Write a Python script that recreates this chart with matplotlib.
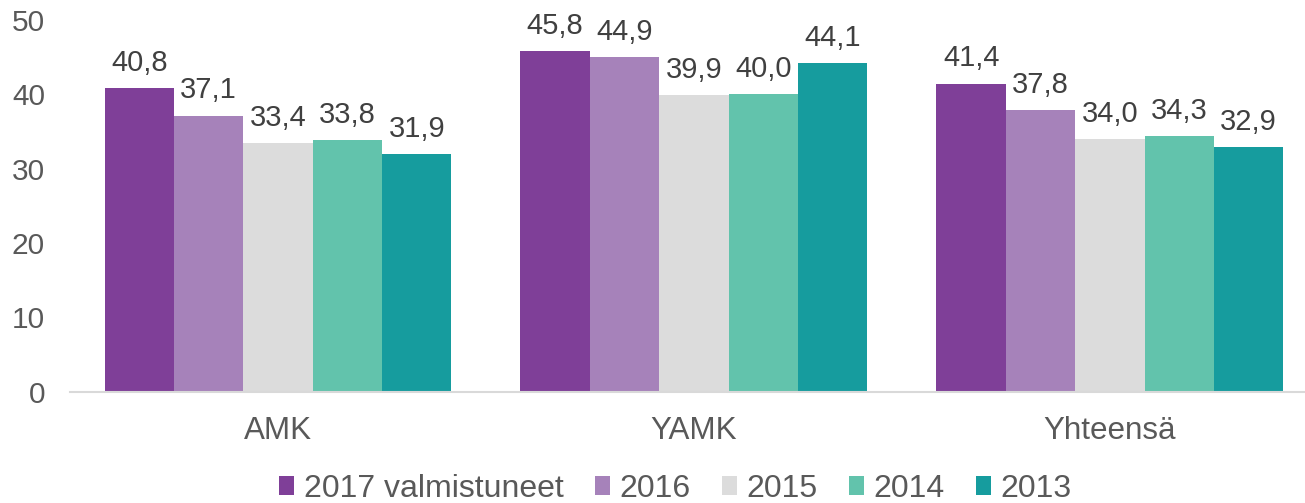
import matplotlib
matplotlib.use("Agg")
import matplotlib.pyplot as plt
import numpy as np

plt.rcParams["font.family"] = ["Liberation Sans", "DejaVu Sans"]

categories = ["AMK", "YAMK", "Yhteensä"]
series_names = ["2017 valmistuneet", "2016", "2015", "2014", "2013"]
values = [
    [40.8, 45.8, 41.4],  # 2017 valmistuneet
    [37.1, 44.9, 37.8],  # 2016
    [33.4, 39.9, 34.0],  # 2015
    [33.8, 40.0, 34.3],  # 2014
    [31.9, 44.1, 32.9],  # 2013
]
colors = ["#7F3F98", "#A682BA", "#DCDCDC", "#62C3AC", "#169C9E"]
yticks = [0, 10, 20, 30, 40, 50]

fig = plt.figure(figsize=(13.05, 5.03), dpi=100)
ax = fig.add_axes([70 / 1305, 111 / 503, 1 - 70 / 1305, (483.5 - 111) / 503])

x = np.arange(len(categories))
w = 0.1668
for i, (name, vals) in enumerate(zip(series_names, values)):
    pos = x - 2 * w + i * w
    bars = ax.bar(pos, vals, width=w, color=colors[i], label=name)
    for b, v in zip(bars, vals):
        ax.annotate(f"{v:.1f}".replace(".", ","),
                    (b.get_x() + b.get_width() / 2, v),
                    xytext=(0, 8), textcoords="offset points",
                    ha="center", va="bottom", fontsize=21, color="#404040")

ax.set_xlim(-0.5, 2.469)
ax.set_ylim(0, 50)
ax.set_yticks(yticks)
ax.set_xticks(x)
ax.set_xticklabels(categories)
ax.tick_params(axis="both", length=0, colors="#595959")
ax.tick_params(axis="y", pad=18, labelsize=21.5)
ax.tick_params(axis="x", pad=17, labelsize=22.6)
for s in ["top", "right", "left"]:
    ax.spines[s].set_visible(False)
ax.spines["bottom"].set_color("#D9D9D9")
ax.spines["bottom"].set_linewidth(1.5)

fig.legend(loc="center", bbox_to_anchor=(0.5176, 14 / 503), ncol=5,
           frameon=False, fontsize=23, handlelength=0.47, handleheight=0.53,
           handletextpad=0.3, columnspacing=0.98, labelcolor="#595959")

fig.savefig("out.png", dpi=100)
plt.close(fig)
